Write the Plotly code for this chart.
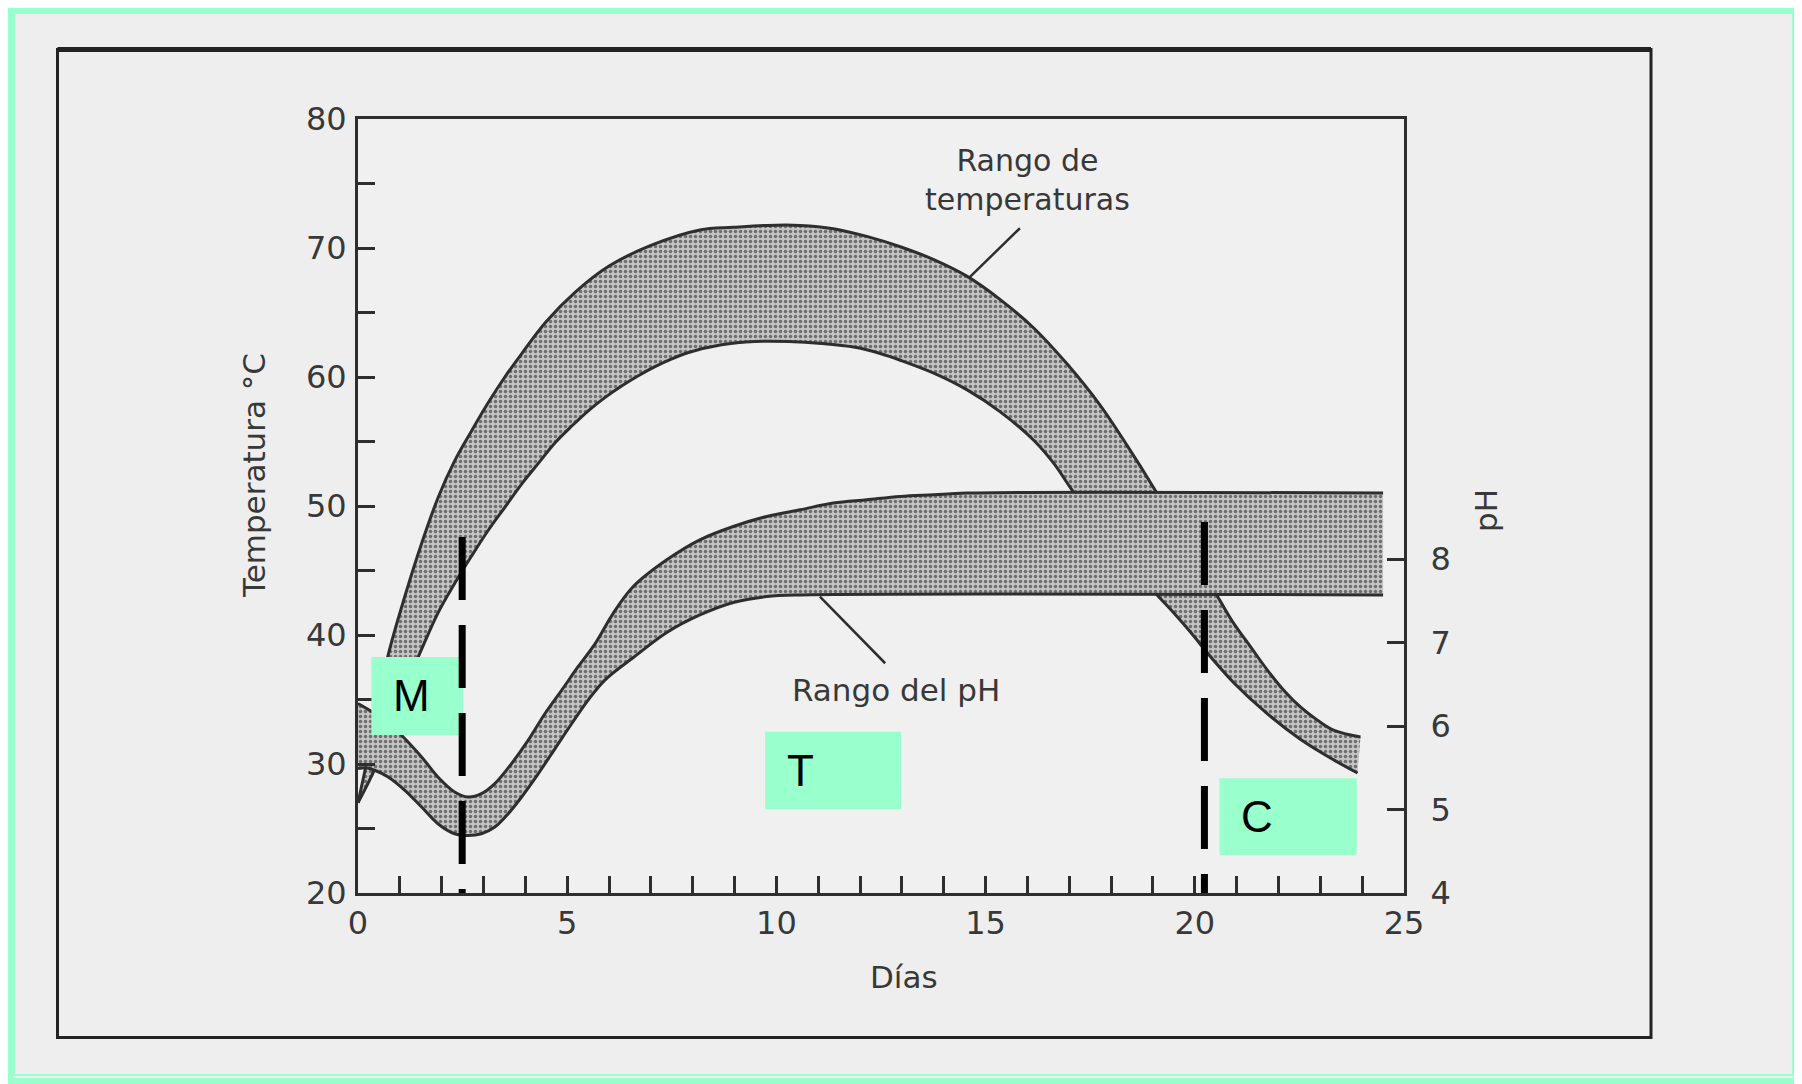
import plotly.graph_objects as go

# ---------------- data ----------------
day_tick_vals = [0, 5, 10, 15, 20, 25]
day_tick_text = ["0", "5", "10", "15", "20", "25"]
day_minor_vals = list(range(0, 26))
temp_tick_vals = [20, 30, 40, 50, 60, 70, 80]
temp_tick_text = ["20", "30", "40", "50", "60", "70", "80"]
temp_minor_vals = [20, 25, 30, 35, 40, 45, 50, 55, 60, 65, 70, 75, 80]
ph_tick_vals = [4, 5, 6, 7, 8]
ph_tick_text = ["4", "5", "6", "7", "8"]

# temperature range (upper and lower limits), degC vs days
temp_upper_days = [0.0, 0.2, 0.45, 0.71, 1.12, 1.52, 1.92, 2.31, 2.71, 3.11, 3.51, 3.91,
                   4.5, 5.2, 6.0, 7.0, 8.17, 8.97, 9.77, 10.57, 11.36, 12.16, 12.96, 13.76,
                   14.56, 15.35, 16.15, 16.95, 17.74, 18.38, 19.02, 19.6, 20.1, 20.54, 20.93,
                   21.33, 21.73, 22.13, 22.53, 22.93, 23.33, 23.96]
temp_upper = [27.0, 30.0, 34.0, 38.3, 43.0, 47.1, 50.7, 53.5, 55.8, 58.0, 60.0, 61.8,
              64.3, 66.6, 68.6, 70.2, 71.4, 71.6, 71.75, 71.75, 71.5, 70.9, 70.1, 69.1,
              67.8, 66.0, 63.8, 61.0, 57.8, 54.7, 51.4, 48.2, 45.3, 43.0, 40.9,
              39.1, 37.3, 35.7, 34.4, 33.4, 32.6, 32.1]
temp_lower_days = [0.0, 0.4, 0.8, 1.1, 1.44, 1.91, 2.31, 2.71, 3.11, 3.51, 3.91, 4.31, 4.71,
                   5.11, 5.51, 5.90, 6.30, 6.70, 7.10, 7.50, 7.90, 8.69, 9.49, 10.29, 11.08,
                   11.88, 12.5, 12.96, 13.76, 14.56, 15.35, 16.15, 16.63, 17.03, 17.6, 18.2,
                   18.7, 19.10, 19.50, 19.98, 20.30, 20.93, 21.73, 22.53, 23.33, 23.89]
temp_lower = [27.0, 29.6, 33.0, 35.8, 38.3, 41.7, 44.0, 46.1, 48.1, 49.9, 51.7, 53.3, 54.9,
              56.2, 57.4, 58.4, 59.3, 60.1, 60.8, 61.4, 61.9, 62.5, 62.75, 62.75, 62.6,
              62.3, 61.8, 61.3, 60.3, 59.0, 57.3, 55.1, 53.3, 51.4, 48.8, 46.4,
              44.6, 43.1, 41.7, 39.9, 38.6, 36.3, 33.9, 31.9, 30.3, 29.3]

# pH range (upper and lower limits) vs days
ph_upper_days = [0.0, 0.4, 0.8, 1.04, 1.52, 1.91, 2.31, 2.63, 2.95, 3.27, 3.67, 4.07, 4.47,
                 4.87, 5.26, 5.66, 6.1, 6.58, 7.38, 8.17, 8.97, 9.77, 10.57, 11.36, 12.16,
                 12.96, 13.76, 14.56, 24.5]
ph_upper = [6.27, 6.15, 6.0, 5.89, 5.63, 5.39, 5.21, 5.15, 5.19, 5.31, 5.55, 5.83, 6.15,
            6.43, 6.71, 6.98, 7.35, 7.67, 7.99, 8.23, 8.39, 8.51, 8.59, 8.67, 8.71,
            8.75, 8.77, 8.79, 8.79]
ph_lower_days = [0.0, 0.2, 0.40, 0.72, 1.12, 1.52, 1.91, 2.31, 2.63, 2.95, 3.27, 3.59, 3.91,
                 4.31, 4.71, 5.11, 5.50, 5.90, 6.58, 7.38, 8.17, 8.97, 9.77, 10.57, 24.5]
ph_lower = [5.49, 5.50, 5.47, 5.39, 5.23, 5.03, 4.83, 4.71, 4.69, 4.71, 4.79, 4.95, 5.15,
            5.43, 5.73, 6.03, 6.31, 6.55, 6.82, 7.12, 7.33, 7.48, 7.55, 7.57, 7.57]

# phase boundaries (days) and phase labels
phase_boundary_days = [2.49, 20.23]
phase_labels = ["M", "T", "C"]

# ---------------- style ----------------
INK = "#2e2e2e"
TXT = "#383838"
GREEN = "#99FFCC"
FONT = "DejaVu Sans"
PATTERN = dict(shape=".", size=5, solidity=0.38, fgcolor="#6e6e6e",
               bgcolor="#c4c4c4", fillmode="replace")

# Plot area in viewport pixels; the page body adds an 8 px offset to the figure.
OFF = 8
L, R, T, B = 358, 1404, 119, 893
W, H = 1802, 1084
def px(xv):
    return (xv - L) / (R - L)
def py(yv):
    return (B - yv) / (B - T)

fig = go.Figure()
line_style = dict(color=INK, width=3, shape="spline", smoothing=1.0)

fig.add_trace(go.Scatter(x=temp_lower_days, y=temp_lower, mode="lines",
                         line=line_style, hoverinfo="skip", showlegend=False))
fig.add_trace(go.Scatter(x=temp_upper_days, y=temp_upper, mode="lines",
                         line=line_style, fill="tonexty", fillcolor="#bdbdbd",
                         fillpattern=PATTERN, hoverinfo="skip", showlegend=False))
fig.add_trace(go.Scatter(x=ph_lower_days, y=ph_lower, mode="lines", yaxis="y2",
                         line=line_style, hoverinfo="skip", showlegend=False))
fig.add_trace(go.Scatter(x=ph_upper_days, y=ph_upper, mode="lines", yaxis="y2",
                         line=line_style, fill="tonexty", fillcolor="#bdbdbd",
                         fillpattern=PATTERN, hoverinfo="skip", showlegend=False))

NOFILL = "rgba(0,0,0,0)"
shapes = []
# page green border (viewport coords)
shapes.append(dict(type="rect", xref="paper", yref="paper",
                   x0=px(OFF + 2), x1=px(W - 3), y0=py(H - 3), y1=py(OFF + 2),
                   line=dict(color=GREEN, width=6), fillcolor=NOFILL, layer="above"))
shapes.append(dict(type="rect", xref="paper", yref="paper",
                   x0=px(14), x1=px(W - 9), y0=py(H - 9), y1=py(13),
                   line=dict(color=GREEN, width=2), fillcolor=NOFILL, layer="above"))
# outer black frame
shapes.append(dict(type="rect", xref="paper", yref="paper",
                   x0=px(57.5), x1=px(1651), y0=py(1037.5), y1=py(49.5),
                   line=dict(color="#222222", width=3), fillcolor=NOFILL, layer="below"))
shapes.append(dict(type="line", xref="paper", yref="paper",
                   x0=px(57.5), x1=px(1651), y0=py(49.5), y1=py(49.5),
                   line=dict(color="#222222", width=5)))

# green phase boxes
box_x0 = [0.32, 9.73, 20.59]
box_x1 = [2.51, 12.98, 23.87]
box_y0 = [32.25, 26.5, 22.95]
box_y1 = [38.3, 32.5, 28.9]
for i in range(3):
    shapes.append(dict(type="rect", xref="x", yref="y", x0=box_x0[i], x1=box_x1[i],
                       y0=box_y0[i], y1=box_y1[i], line=dict(width=0),
                       fillcolor=GREEN, layer="above"))
# dashed phase boundaries
dash_top = [47.6, 48.76]
for i, d in enumerate(phase_boundary_days):
    shapes.append(dict(type="line", xref="x", yref="y", x0=d, x1=d,
                       y0=dash_top[i], y1=19.6,
                       line=dict(color="black", width=7, dash="63px,25px"), layer="above"))
# leader lines
shapes.append(dict(type="line", xref="x", yref="y", x0=15.82, y0=71.53, x1=14.59, y1=67.65,
                   line=dict(color=INK, width=2.5)))
shapes.append(dict(type="line", xref="x", yref="y", x0=11.04, y0=42.97, x1=12.60, y1=37.81,
                   line=dict(color=INK, width=2.5)))

annotations = []
for i, lab in enumerate(phase_labels):
    annotations.append(dict(x=box_x0[i], y=(box_y0[i] + box_y1[i]) / 2, xref="x", yref="y",
                            text=lab, showarrow=False, xanchor="left", yanchor="middle",
                            xshift=20, font=dict(family="Liberation Sans", size=44, color="black")))
lab_font = dict(family=FONT, size=31, color=TXT)
annotations += [
    dict(x=15.99, y=75.27, xref="x", yref="y", text="Rango de<br>temperaturas",
         showarrow=False, font=dict(family=FONT, size=30, color=TXT), align="center",
         xanchor="center", yanchor="middle"),
    dict(x=12.86, y=35.74, xref="x", yref="y", text="Rango del pH",
         showarrow=False, font=lab_font, xanchor="center", yanchor="middle"),
    dict(x=px(254), y=py(476), xref="paper", yref="paper", text="Temperatura °C",
         textangle=-90, showarrow=False, font=lab_font, xanchor="center", yanchor="middle"),
    dict(x=px(904), y=py(977), xref="paper", yref="paper", text="Días",
         showarrow=False, font=lab_font, xanchor="center", yanchor="middle"),
    dict(x=px(1486), y=py(511), xref="paper", yref="paper", text="pH",
         textangle=-90, showarrow=False, font=lab_font, xanchor="center", yanchor="middle"),
]

tickfont = dict(family=FONT, size=32, color=TXT)
axis_common = dict(showgrid=False, zeroline=False, showline=True, linewidth=3,
                   linecolor=INK, ticks="inside", ticklen=17, tickwidth=2.5,
                   tickcolor=INK, tickfont=tickfont)

fig.update_layout(
    width=W, height=H, autosize=False,
    margin=dict(l=L - OFF, r=W - (R - OFF), t=T - OFF, b=H - (B - OFF), pad=0),
    paper_bgcolor="#eeeeee", plot_bgcolor="#f0f0f0",
    showlegend=False,
    xaxis=dict(range=[0, 25], tickmode="array", tickvals=day_tick_vals, ticktext=day_tick_text,
               mirror=True, ticklabelstandoff=0,
               minor=dict(tickmode="array", tickvals=day_minor_vals, ticks="inside",
                          ticklen=17, tickwidth=2.5, tickcolor=INK, showgrid=False),
               **axis_common),
    yaxis=dict(range=[20, 80], tickmode="array", tickvals=temp_tick_vals, ticktext=temp_tick_text,
               mirror=True, ticklabelstandoff=2,
               minor=dict(tickmode="array", tickvals=temp_minor_vals, ticks="inside",
                          ticklen=17, tickwidth=2.5, tickcolor=INK, showgrid=False),
               **axis_common),
    yaxis2=dict(range=[4, 13.27], overlaying="y", side="right", tickmode="array",
                tickvals=ph_tick_vals, ticktext=ph_tick_text, ticklabelstandoff=17,
                **axis_common),
    shapes=shapes,
    annotations=annotations,
)

fig.write_html("out.html")
